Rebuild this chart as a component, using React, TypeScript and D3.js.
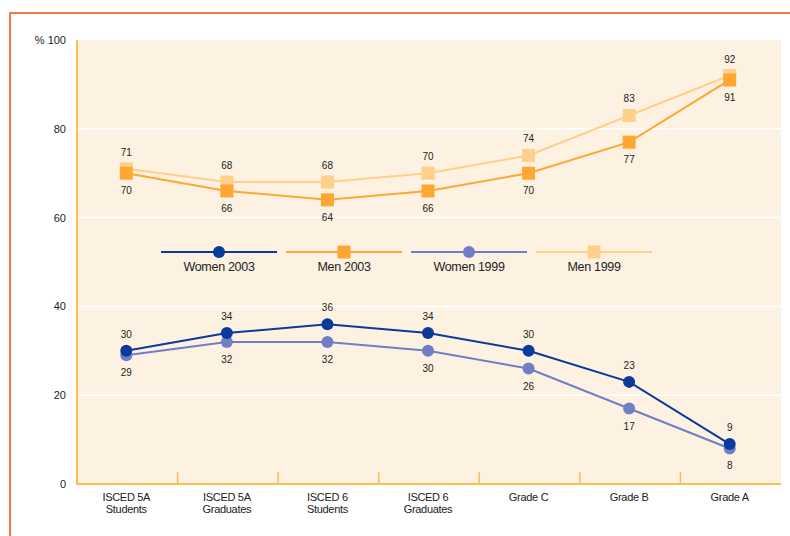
import React from "react";
import * as d3 from "d3";

const categories = [
  ["ISCED 5A", "Students"],
  ["ISCED 5A", "Graduates"],
  ["ISCED 6", "Students"],
  ["ISCED 6", "Graduates"],
  ["Grade C"],
  ["Grade B"],
  ["Grade A"],
];
const women2003 = [30, 34, 36, 34, 30, 23, 9];
const men2003 = [70, 66, 64, 66, 70, 77, 91];
const women1999 = [29, 32, 32, 30, 26, 17, 8];
const men1999 = [71, 68, 68, 70, 74, 83, 92];
const yTicks = [0, 20, 40, 60, 80];

const seriesList = [
  { name: "Women 2003", values: women2003, color: "#0a3a9a", shape: "circle", labelPos: "above" },
  { name: "Men 2003", values: men2003, color: "#ffa633", shape: "square", labelPos: "below" },
  { name: "Women 1999", values: women1999, color: "#717ec6", shape: "circle", labelPos: "below" },
  { name: "Men 1999", values: men1999, color: "#ffd08c", shape: "square", labelPos: "above" },
];

export default function App() {
  const W = 790, H = 536;
  const left = 77, right = 781, top = 40, bottom = 484;
  const x = d3.scaleBand<number>().domain(d3.range(categories.length)).range([left, right]);
  const y = d3.scaleLinear().domain([0, 100]).range([bottom, top]);
  const cx = (i: number) => (x(i) as number) + x.bandwidth() / 2 - 1;
  const line = d3.line<number>().x((_, i) => cx(i)).y((v) => y(v));
  const font = "'Liberation Sans', Arial, sans-serif";
  const drawOrder = [3, 1, 2, 0];
  const legendCenters = [219, 344, 469, 594];
  const legendHalf = 58;
  const legendY = 252;

  const marker = (s: any, px: number, py: number, key: string) =>
    s.shape === "circle" ? (
      <circle key={key} cx={px} cy={py} r={6} fill={s.color} />
    ) : (
      <rect key={key} x={px - 6.5} y={py - 6.5} width={13} height={13} fill={s.color} />
    );

  return (
    <svg width={W} height={H} style={{ position: "absolute", left: 0, top: 0, background: "#fff" }} fontFamily={font}>
      <line x1={10} y1={13} x2={W} y2={13} stroke="#f4784a" strokeWidth={2} />
      <line x1={10} y1={12} x2={10} y2={H} stroke="#f4784a" strokeWidth={2} />
      <rect x={left} y={top} width={right - left} height={bottom - top} fill="#fdf2e2" />
      {yTicks.filter((t) => t > 0).map((t) => (
        <line key={"g" + t} x1={left} x2={right} y1={y(t)} y2={y(t)} stroke="#ffffff" strokeWidth={1.5} />
      ))}
      {yTicks.map((t) => (
        <text key={"yt" + t} x={66} y={y(t) + 4} textAnchor="end" fontSize={11} fill="#222">
          {t}
        </text>
      ))}
      <text x={66} y={y(100) + 4} textAnchor="end" fontSize={11} fill="#222">% 100</text>
      <line x1={left} x2={left} y1={top} y2={bottom + 1} stroke="#ffbb55" strokeWidth={2} />
      <line x1={left} x2={right} y1={bottom} y2={bottom} stroke="#ffbb55" strokeWidth={2} />
      {d3.range(1, categories.length).map((i) => (
        <line key={"xt" + i} x1={x(i) as number} x2={x(i) as number} y1={bottom} y2={bottom - 12} stroke="#ffbb55" strokeWidth={1.5} />
      ))}
      {categories.map((c, i) => (
        <text key={"xl" + i} x={cx(i)} y={501} textAnchor="middle" fontSize={11} fill="#222" letterSpacing={-0.3}>
          {c.map((ln, j) => (
            <tspan key={j} x={cx(i)} dy={j === 0 ? 0 : 12}>{ln}</tspan>
          ))}
        </text>
      ))}
      {drawOrder.map((k) => {
        const s = seriesList[k];
        return (
          <g key={"s" + k}>
            <path d={line(s.values) as string} fill="none" stroke={s.color} strokeWidth={2} />
            {s.values.map((v, i) => marker(s, cx(i), y(v), "m" + i))}
          </g>
        );
      })}
      {seriesList.map((s, k) =>
        s.values.map((v, i) => (
          <text key={"dl" + k + "-" + i} x={cx(i)} y={s.labelPos === "above" ? y(v) - 13 : y(v) + 21} textAnchor="middle" fontSize={10} fill="#222">
            {v}
          </text>
        ))
      )}
      {seriesList.map((s, k) => {
        const c = legendCenters[k];
        return (
          <g key={"lg" + k}>
            <line x1={c - legendHalf} x2={c + legendHalf} y1={legendY} y2={legendY} stroke={s.color} strokeWidth={2} />
            {marker(s, c, legendY, "lm")}
            <text x={c} y={legendY + 19} textAnchor="middle" fontSize={12.5} fill="#222" letterSpacing={-0.3}>{s.name}</text>
          </g>
        );
      })}
    </svg>
  );
}
